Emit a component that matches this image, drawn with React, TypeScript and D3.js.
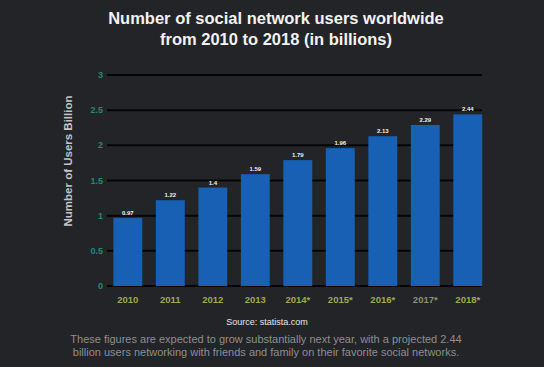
import React from 'react';
import * as d3 from 'd3';

const years = ['2010', '2011', '2012', '2013', '2014*', '2015*', '2016*', '2017*', '2018*'];
const users = [0.97, 1.22, 1.4, 1.59, 1.79, 1.96, 2.13, 2.29, 2.44];
const yTicks = [0, 0.5, 1, 1.5, 2, 2.5, 3];

const W = 544, H = 367;
const font = '"Liberation Sans", Arial, sans-serif';

export default function App() {
  const x = d3.scaleBand<string>()
    .domain(years)
    .range([107, 488.6])
    .paddingInner(0.32)
    .paddingOuter(0.15);
  const y = d3.scaleLinear().domain([0, 3]).range([286, 75]);

  return (
    <svg width={W} height={H} style={{ position: 'absolute', left: 0, top: 0, display: 'block' }}>
      <rect width={W} height={H} fill="#232428" />
      <text x={276} y={24} textAnchor="middle" fill="#f2f2f2" fontFamily={font} fontWeight="bold" fontSize={16.5}>
        Number of social network users worldwide
      </text>
      <text x={276} y={45} textAnchor="middle" fill="#f2f2f2" fontFamily={font} fontWeight="bold" fontSize={16.5}>
        from 2010 to 2018 (in billions)
      </text>

      {yTicks.map(t => (
        <g key={t}>
          <line x1={107} x2={482} y1={y(t)} y2={y(t)} stroke="#050505" strokeWidth={2} />
          <text x={103} y={y(t)} dy="0.35em" textAnchor="end" fill="#2a8579" fontFamily={font} fontWeight="bold" fontSize={9}>
            {t}
          </text>
        </g>
      ))}

      {years.map((yr, i) => (
        <g key={yr}>
          <rect x={x(yr)} y={y(users[i])} width={x.bandwidth()} height={y(0) - y(users[i])} fill="#1760b3" />
          <text x={(x(yr) ?? 0) + x.bandwidth() / 2} y={y(users[i]) - 3} textAnchor="middle" fill="#f0f0f0" fontFamily={font} fontWeight="bold" fontSize={6}>
            {users[i]}
          </text>
          <text x={(x(yr) ?? 0) + x.bandwidth() / 2} y={303} textAnchor="middle" fill={yr === '2017*' ? '#8c9270' : '#a2a843'} fontFamily={font} fontWeight="bold" fontSize={9.5}>
            {yr}
          </text>
        </g>
      ))}

      <text transform="translate(72,161) rotate(-90)" textAnchor="middle" fill="#c4c4c4" fontFamily={font} fontWeight="bold" fontSize={11.5}>
        Number of Users Billion
      </text>

      <text x={267} y={325} textAnchor="middle" fill="#e6e6e6" fontFamily={font} fontSize={9}>
        Source: statista.com
      </text>
      <text x={266} y={343} textAnchor="middle" fill="#8e8e8e" fontFamily={font} fontSize={11}>
        These figures are expected to grow substantially next year, with a projected 2.44
      </text>
      <text x={266} y={356} textAnchor="middle" fill="#8e8e8e" fontFamily={font} fontSize={11}>
        billion users networking with friends and family on their favorite social networks.
      </text>
    </svg>
  );
}
